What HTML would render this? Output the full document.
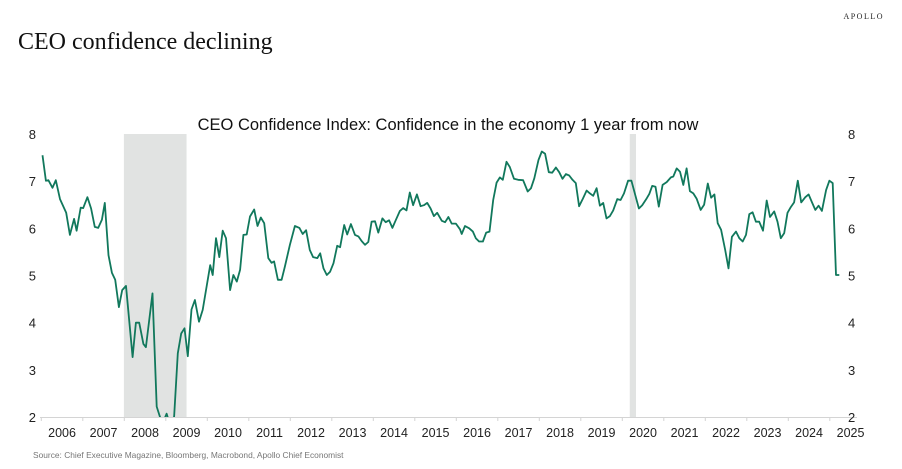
<!DOCTYPE html>
<html><head><meta charset="utf-8"><style>
body{margin:0;background:#fff;width:902px;height:469px;overflow:hidden}
svg{display:block}
</style></head><body>
<svg id="chart" width="902" height="469" xmlns="http://www.w3.org/2000/svg">
<text x="18" y="49" font-family="Liberation Serif, serif" font-size="24" fill="#111">CEO confidence declining</text>
<text x="884" y="19" text-anchor="end" font-family="Liberation Serif, serif" font-size="8" letter-spacing="1.5" fill="#222">APOLLO</text>
<text x="448" y="130" text-anchor="middle" font-family="Liberation Sans, sans-serif" font-size="16.5" fill="#111">CEO Confidence Index: Confidence in the economy 1 year from now</text>
<text x="33" y="458" font-family="Liberation Sans, sans-serif" font-size="8.4" fill="#777">Source: Chief Executive Magazine, Bloomberg, Macrobond, Apollo Chief Economist</text>
<defs><clipPath id="pc"><rect x="40" y="120" width="818" height="297"/></clipPath></defs>
<g id="shade"></g><g id="axes"></g><g id="series" clip-path="url(#pc)"></g>
</svg>
<script>
const recessions=[[2007.99,2009.50],[2020.18,2020.33]];
const yTicks=[2,3,4,5,6,7,8];
const years=[2006,2007,2008,2009,2010,2011,2012,2013,2014,2015,2016,2017,2018,2019,2020,2021,2022,2023,2024,2025];
const dates=[2006.03,2006.11,2006.17,2006.27,2006.35,2006.45,2006.60,2006.69,2006.79,2006.85,2006.95,2007.01,2007.11,2007.20,2007.29,2007.37,2007.46,2007.53,2007.62,2007.70,2007.78,2007.87,2007.95,2008.04,2008.20,2008.28,2008.36,2008.46,2008.52,2008.68,2008.78,2008.86,2008.94,2009.02,2009.08,2009.20,2009.29,2009.37,2009.45,2009.53,2009.62,2009.70,2009.80,2009.89,2010.07,2010.13,2010.21,2010.29,2010.37,2010.45,2010.55,2010.63,2010.71,2010.79,2010.87,2010.95,2011.03,2011.13,2011.21,2011.29,2011.37,2011.47,2011.55,2011.61,2011.70,2011.79,2011.87,2011.99,2012.11,2012.22,2012.30,2012.38,2012.47,2012.55,2012.65,2012.72,2012.80,2012.88,2012.96,2013.04,2013.13,2013.20,2013.30,2013.37,2013.46,2013.56,2013.64,2013.72,2013.80,2013.88,2013.96,2014.04,2014.12,2014.22,2014.30,2014.38,2014.46,2014.54,2014.64,2014.72,2014.80,2014.88,2014.96,2015.05,2015.14,2015.22,2015.30,2015.38,2015.46,2015.54,2015.65,2015.73,2015.81,2015.89,2015.99,2016.09,2016.13,2016.21,2016.31,2016.40,2016.47,2016.55,2016.64,2016.72,2016.80,2016.89,2016.97,2017.05,2017.12,2017.21,2017.29,2017.39,2017.49,2017.61,2017.72,2017.80,2017.88,2017.98,2018.06,2018.14,2018.23,2018.31,2018.40,2018.48,2018.56,2018.64,2018.72,2018.80,2018.88,2018.96,2019.05,2019.14,2019.22,2019.30,2019.38,2019.46,2019.54,2019.62,2019.70,2019.78,2019.88,2019.96,2020.04,2020.14,2020.22,2020.31,2020.40,2020.48,2020.59,2020.65,2020.72,2020.80,2020.88,2020.97,2021.07,2021.17,2021.23,2021.31,2021.39,2021.47,2021.55,2021.63,2021.71,2021.79,2021.89,2021.97,2022.06,2022.14,2022.22,2022.30,2022.38,2022.48,2022.56,2022.64,2022.74,2022.82,2022.90,2022.98,2023.06,2023.14,2023.22,2023.30,2023.39,2023.48,2023.56,2023.66,2023.74,2023.82,2023.90,2023.98,2024.06,2024.14,2024.23,2024.31,2024.41,2024.49,2024.57,2024.65,2024.73,2024.81,2024.91,2024.99,2025.07,2025.15,2025.23];
const values=[7.55,7.01,7.02,6.86,7.02,6.62,6.33,5.86,6.2,5.95,6.44,6.43,6.66,6.42,6.03,6.01,6.18,6.54,5.43,5.06,4.91,4.33,4.69,4.78,3.27,4.0,4.0,3.55,3.48,4.62,2.22,2.0,1.9,2.07,1.9,2.0,3.35,3.77,3.88,3.29,4.28,4.48,4.02,4.27,5.22,5.01,5.79,5.39,5.95,5.79,4.69,5.01,4.87,5.12,5.86,5.87,6.25,6.40,6.05,6.23,6.11,5.37,5.27,5.3,4.91,4.91,5.19,5.65,6.05,6.01,5.88,5.96,5.54,5.39,5.37,5.47,5.15,5.01,5.08,5.26,5.63,5.6,6.07,5.87,6.09,5.86,5.83,5.73,5.65,5.71,6.14,6.15,5.91,6.21,6.13,6.17,6.01,6.17,6.37,6.43,6.38,6.76,6.49,6.72,6.47,6.49,6.54,6.42,6.26,6.33,6.16,6.13,6.24,6.1,6.1,5.98,5.88,6.05,6.0,5.93,5.79,5.72,5.72,5.91,5.93,6.6,6.97,7.08,7.03,7.41,7.3,7.05,7.03,7.02,6.78,6.85,7.06,7.45,7.63,7.58,7.19,7.18,7.29,7.19,7.05,7.15,7.12,7.03,6.96,6.47,6.63,6.8,6.74,6.69,6.85,6.48,6.54,6.21,6.26,6.38,6.62,6.6,6.74,7.01,7.01,6.71,6.42,6.49,6.64,6.73,6.9,6.88,6.46,6.92,6.98,7.08,7.1,7.27,7.2,6.92,7.27,6.79,6.74,6.63,6.39,6.5,6.95,6.65,6.72,6.11,5.97,5.54,5.15,5.82,5.93,5.79,5.72,5.86,6.3,6.34,6.14,6.14,5.95,6.59,6.24,6.36,6.14,5.79,5.9,6.33,6.45,6.55,7.01,6.55,6.66,6.72,6.55,6.39,6.48,6.37,6.81,7.01,6.96,5.01,5.01];
const NS="http://www.w3.org/2000/svg";
const X0=41.3,XW=41.5,Y8=134,YU=47.17;
const xs=d=>X0+(d-2006)*XW;
const ys=v=>Y8+(8-v)*YU;
function mk(tag,attrs,parent,txt){const e=document.createElementNS(NS,tag);for(const k in attrs)e.setAttribute(k,attrs[k]);if(txt!==undefined)e.textContent=txt;parent.appendChild(e);return e;}
const shade=document.getElementById('shade'),axes=document.getElementById('axes'),series=document.getElementById('series');
recessions.forEach(r=>{
 const el=mk('rect',{x:xs(r[0]),y:ys(8),width:xs(r[1])-xs(r[0]),height:ys(2)-ys(8),fill:'#e1e3e2'},shade);
 
 
});
const ax=mk('line',{x1:40,x2:857,y1:417.5,y2:417.5,stroke:'#d4d4d4','stroke-width':1},axes);


yTicks.forEach(t=>{
 const l=mk('text',{x:36,y:ys(t)+5,'text-anchor':'end','font-family':'Liberation Sans, sans-serif','font-size':13,fill:'#222'},axes,String(t));
 
 
 const r=mk('text',{x:848,y:ys(t)+5,'font-family':'Liberation Sans, sans-serif','font-size':13,fill:'#222'},axes,String(t));
 
 
});
years.forEach(yv=>{
 const tk=mk('line',{x1:xs(yv),x2:xs(yv),y1:417,y2:421,stroke:'#d4d4d4'},axes);
 
 
 const lb=mk('text',{x:xs(yv+0.5),y:437,'text-anchor':'middle','font-family':'Liberation Sans, sans-serif','font-size':12.5,fill:'#222'},axes,String(yv));
 
 
});
const n=Math.min(dates.length,values.length);
const p=mk('path',{d:dates.slice(0,n).map((d,i)=>(i?'L':'M')+xs(d).toFixed(1)+','+ys(values[i]).toFixed(1)).join(''),fill:'none',stroke:'#11785c','stroke-width':1.8,'stroke-linejoin':'round'},series);


</script>
</body></html>
